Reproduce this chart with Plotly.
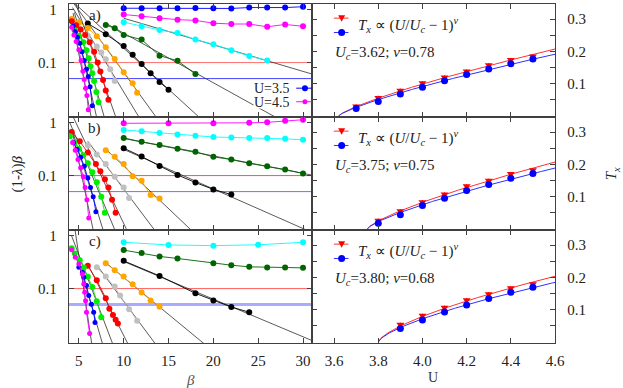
import numpy as np
import plotly.graph_objects as go
from plotly.subplots import make_subplots

# ---------------- left panels: (1-lambda)*beta versus beta ----------------
# panel a)
A35_b = [10, 12, 14, 16, 18, 20, 22, 24, 26, 28, 30]
A35_v = [1.05, 1.05, 1.05, 1.05, 1.06, 1.05, 1.04, 1.08, 1.08, 1.08, 1.12]
A36_b = [10, 12, 14, 16, 18, 20, 22, 24, 26, 28, 30]
A36_v = [0.80, 0.74, 0.68, 0.64, 0.62, 0.55, 0.53, 0.53, 0.47, 0.52, 0.48]
A37_b = [10, 12, 14, 16, 18, 20, 22, 24, 26]
A37_v = [0.575, 0.48, 0.41, 0.36, 0.27, 0.22, 0.17, 0.133, 0.11]
A38_b = [8, 9, 10, 12, 14, 16, 18]
A38_v = [0.51, 0.44, 0.33, 0.27, 0.135, 0.108, 0.061]
A39_b = [6, 8, 10, 11, 12, 13, 14, 15]
A39_v = [0.54, 0.34, 0.204, 0.141, 0.094, 0.063, 0.043, 0.031]
A40_b = [4.2, 5, 6, 7, 8, 9, 10, 11, 11.5]
A40_v = [0.66, 0.575, 0.444, 0.313, 0.194, 0.117, 0.066, 0.041, 0.027]
A41_b = [4.3, 5, 6, 7, 7.5, 8, 8.5, 9]
A41_v = [0.52, 0.44, 0.32, 0.2, 0.155, 0.115, 0.075, 0.045]
A42_b = [4.2, 4.7, 5.2, 5.7, 6.2, 6.7, 7.1, 7.4, 7.7, 8.0, 8.3]
A42_v = [0.6, 0.5, 0.42, 0.33, 0.24, 0.16, 0.1, 0.068, 0.047, 0.03, 0.02]
A43_b = [4.5, 5.0, 5.5, 5.85, 6.1, 6.3, 6.5, 6.7, 6.95, 7.2]
A43_v = [0.41, 0.32, 0.24, 0.17, 0.12, 0.085, 0.063, 0.045, 0.028, 0.018]
A44_b = [4.35, 4.6, 4.85, 5.1, 5.35, 5.6, 5.85, 6.05, 6.25, 6.5]
A44_v = [0.48, 0.38, 0.3, 0.23, 0.16, 0.11, 0.075, 0.055, 0.035, 0.0155]
A45_b = [4.2, 4.45, 4.7, 5.0, 5.25, 5.45, 5.6, 5.75, 5.9, 6.05]
A45_v = [0.46, 0.33, 0.25, 0.174, 0.109, 0.069, 0.048, 0.033, 0.024, 0.013]

# panel b)
B36_b = [10, 15, 20, 24, 26, 28, 30]
B36_v = [0.96, 0.96, 0.96, 0.98, 1.0, 1.07, 1.12]
B37_b = [10, 12, 14, 16, 18, 20, 22, 24, 26, 28, 30]
B37_v = [0.72, 0.68, 0.63, 0.59, 0.56, 0.53, 0.52, 0.51, 0.51, 0.49, 0.47]
B38_b = [10, 12, 14, 16, 18, 20, 22, 24, 26, 28, 30]
B38_v = [0.51, 0.43, 0.375, 0.32, 0.28, 0.225, 0.2, 0.17, 0.15, 0.13, 0.11]
B39_b = [10, 12, 14, 16, 18, 20, 22]
B39_v = [0.327, 0.228, 0.152, 0.103, 0.074, 0.055, 0.044]
B40_b = [8, 9, 10, 11, 12, 13, 14]
B40_v = [0.30, 0.225, 0.165, 0.097, 0.08, 0.043, 0.037]
B41_b = [6, 7, 8, 9, 10, 10.6]
B41_v = [0.37, 0.25, 0.165, 0.095, 0.06, 0.038]
B42_b = [4.2, 5.1, 6.0, 6.9, 7.4, 7.9, 8.3, 8.7, 9.1]
B42_v = [0.66, 0.44, 0.27, 0.165, 0.12, 0.085, 0.06, 0.035, 0.02]
B43_b = [4.0, 4.5, 5.0, 5.5, 6.0, 6.5, 7.0, 7.5, 7.9]
B43_v = [0.55, 0.42, 0.32, 0.24, 0.17, 0.115, 0.075, 0.04, 0.02]
B44_b = [4.4, 4.8, 5.2, 5.6, 6.0, 6.3, 6.6, 6.9]
B44_v = [0.42, 0.31, 0.22, 0.15, 0.09, 0.06, 0.04, 0.021]
B45_b = [4.3, 4.6, 4.9, 5.2, 5.5, 5.7, 5.9, 6.1]
B45_v = [0.42, 0.3, 0.2, 0.14, 0.095, 0.06, 0.035, 0.016]

# panel c)
C37_b = [10, 15, 20, 25, 30]
C37_v = [0.74, 0.66, 0.64, 0.665, 0.74]
C38_b = [10, 12, 14, 16, 20, 22, 24, 26, 28, 30]
C38_v = [0.528, 0.464, 0.402, 0.368, 0.30, 0.275, 0.256, 0.249, 0.249, 0.245]
C39_b = [10, 14, 18, 20, 22, 24]
C39_v = [0.332, 0.173, 0.0815, 0.060, 0.045, 0.036]
C40_b = [8, 9, 10, 11, 12, 13, 14]
C40_v = [0.30, 0.221, 0.168, 0.12, 0.084, 0.06, 0.0457]
C41_b = [7, 8, 9, 9.6, 10.6, 11.5]
C41_v = [0.252, 0.168, 0.109, 0.074, 0.041, 0.025]
C42_b = [6, 7, 8, 8.4, 8.8, 9.1, 9.35]
C42_v = [0.267, 0.143, 0.066, 0.042, 0.032, 0.026, 0.022]
C43_b = [4.2, 4.55, 5.1, 5.55, 6.0, 6.5, 7.0, 7.5]
C43_v = [0.575, 0.457, 0.342, 0.249, 0.166, 0.107, 0.058, 0.029]
C44_b = [5.0, 5.4, 5.55, 5.85, 6.1, 6.4, 6.65, 6.8]
C44_v = [0.252, 0.203, 0.163, 0.114, 0.074, 0.051, 0.036, 0.023]
C45_b = [4.2, 4.6, 5.0, 5.4, 5.55, 5.65, 5.75, 5.85, 6.2]
C45_v = [0.535, 0.389, 0.291, 0.188, 0.122, 0.085, 0.059, 0.036, 0.0143]

THRESHOLDS = [0.1, 0.05]

# ---------------- right panels: T_x versus U ----------------
RA_U = [3.7, 3.8, 3.9, 4.0, 4.1, 4.2, 4.3, 4.4, 4.5]
RA_red = [0.030, 0.057, 0.079, 0.102, 0.120, 0.139, 0.158, 0.174, 0.185]
RA_blue = [0.023, 0.045, 0.068, 0.089, 0.109, 0.129, 0.146, 0.162, 0.177]
RB_U = [3.8, 3.9, 4.0, 4.1, 4.2, 4.3, 4.4, 4.5]
RB_red = [0.0265, 0.056, 0.084, 0.108, 0.133, 0.150, 0.171, 0.183]
RB_blue = [0.018, 0.044, 0.073, 0.095, 0.119, 0.138, 0.157, 0.172]
RC_U = [3.9, 4.0, 4.1, 4.2, 4.3, 4.4, 4.5]
RC_red = [0.054, 0.082, 0.107, 0.130, 0.149, 0.167, 0.180]
RC_blue = [0.042, 0.068, 0.093, 0.115, 0.135, 0.154, 0.170]
UC = [3.62, 3.75, 3.80]
NU = [0.78, 0.75, 0.68]
PANEL_LABELS = ["a)", "b)", "c)"]

# ---------------- styling ----------------
COL = {3.5: "#0000ff", 3.6: "#ff00ff", 3.7: "#00ffff", 3.8: "#006400", 3.9: "#000000",
       4.0: "#ffa500", 4.1: "#c0c0c0", 4.2: "#ff0000", 4.3: "#00ee00", 4.4: "#0000ff",
       4.5: "#ff00ff"}
MSIZE = {4.4: 5, 4.5: 5}
FONT = "Liberation Serif, Times New Roman, serif"
LX = [3.9, 31]
LY = [np.log10(0.0095), np.log10(1.26)]
RX = [3.5, 4.6]
RY = [-0.003, 0.347]
FIT_COLOR = "#303030"

# (U, beta, value, fit_start or None)
left_panels = [
    [(3.5, A35_b, A35_v, None), (3.6, A36_b, A36_v, None), (3.7, A37_b, A37_v, 10),
     (3.8, A38_b, A38_v, 8), (3.9, A39_b, A39_v, 3.9), (4.0, A40_b, A40_v, 3.9),
     (4.1, A41_b, A41_v, 4.3), (4.2, A42_b, A42_v, 4.2), (4.3, A43_b, A43_v, 4.5),
     (4.4, A44_b, A44_v, 4.35), (4.5, A45_b, A45_v, 4.2)],
    [(3.6, B36_b, B36_v, None), (3.7, B37_b, B37_v, None), (3.8, B38_b, B38_v, 10),
     (3.9, B39_b, B39_v, 10), (4.0, B40_b, B40_v, 8), (4.1, B41_b, B41_v, 6),
     (4.2, B42_b, B42_v, 4.2), (4.3, B43_b, B43_v, 4.0), (4.4, B44_b, B44_v, 4.4),
     (4.5, B45_b, B45_v, 4.3)],
    [(3.7, C37_b, C37_v, None), (3.8, C38_b, C38_v, None), (3.9, C39_b, C39_v, 10),
     (4.0, C40_b, C40_v, 8), (4.1, C41_b, C41_v, 7), (4.2, C42_b, C42_v, 6),
     (4.3, C43_b, C43_v, 4.2), (4.4, C44_b, C44_v, 5.0), (4.5, C45_b, C45_v, 4.2)],
]
right_panels = [(RA_U, RA_red, RA_blue), (RB_U, RB_red, RB_blue), (RC_U, RC_red, RC_blue)]

fig = make_subplots(rows=3, cols=2, horizontal_spacing=0, vertical_spacing=0)

for i, series in enumerate(left_panels):
    row = i + 1
    thick = 1 if i < 2 else 3
    tcol = ["#ff7070", "#ff5050", "#ff6060"][i]
    bcol = ["#4040ff", "#7070ff", "#aaaaff"][i]
    fig.add_trace(go.Scatter(x=LX, y=[THRESHOLDS[0]] * 2, mode="lines",
                             line=dict(color=tcol, width=1), hoverinfo="skip"), row=row, col=1)
    fig.add_trace(go.Scatter(x=LX, y=[THRESHOLDS[1]] * 2, mode="lines",
                             line=dict(color=bcol, width=thick), hoverinfo="skip"), row=row, col=1)
    for (u, b, v, fs) in series:
        if fs is None:
            continue
        b = np.array(b, float)
        lv = np.log10(np.array(v, float))
        sel = np.array(v) < 0.35
        if sel.sum() < 3:
            sel = np.ones(len(b), bool)
        k, c0 = np.polyfit(b[sel], lv[sel], 1)
        xs = np.linspace(fs, LX[1], 120)
        fig.add_trace(go.Scatter(x=xs, y=10 ** (k * xs + c0), mode="lines",
                                 line=dict(color=FIT_COLOR, width=0.8), hoverinfo="skip"),
                      row=row, col=1)
    for (u, b, v, fs) in series:
        fig.add_trace(go.Scatter(x=b, y=v, mode="lines+markers",
                                 line=dict(color=COL[u], width=0.9),
                                 marker=dict(color=COL[u], size=MSIZE.get(u, 6))),
                      row=row, col=1)

for i, (uu, red, blue) in enumerate(right_panels):
    row = i + 1
    uc, nu = UC[i], NU[i]
    uarr = np.array(uu)
    f = (uarr / uc - 1) ** nu
    grid = np.linspace(uc, RX[1], 200)
    fg = (grid / uc - 1) ** nu
    for vals, colr in ((red, "#ff3030"), (blue, "#3030ff")):
        vals = np.array(vals)
        amp = np.sum(vals * f) / np.sum(f * f)
        fig.add_trace(go.Scatter(x=grid, y=amp * fg, mode="lines",
                                 line=dict(color=colr, width=1), hoverinfo="skip"),
                      row=row, col=2)
    fig.add_trace(go.Scatter(x=uu, y=red, mode="markers",
                             marker=dict(symbol="triangle-down", color="#ff0000", size=7),
                             error_y=dict(type="constant", value=0.006, width=0,
                                          thickness=1, color="#ff0000")),
                  row=row, col=2)
    fig.add_trace(go.Scatter(x=uu, y=blue, mode="markers",
                             marker=dict(symbol="circle", color="#0000ff", size=7)),
                  row=row, col=2)

axis_common = dict(showline=True, mirror="ticks", linecolor="#404040", linewidth=1.3,
                   ticks="inside", ticklen=5, tickcolor="#404040", showgrid=False,
                   zeroline=False, automargin=False,
                   tickfont=dict(family=FONT, size=15, color="#222"))
for row in (1, 2, 3):
    fig.update_xaxes(range=LX, tick0=5, dtick=5, showticklabels=(row == 3),
                     ticklabelstandoff=4, row=row, col=1, **axis_common)
    fig.update_yaxes(type="log", range=LY, tickvals=[0.1, 1], ticktext=["0.1", "1"],
                     ticklabelstandoff=8, row=row, col=1, **axis_common)
    fig.update_xaxes(range=RX, tick0=3.6, dtick=0.2, tickformat=".1f",
                     showticklabels=(row == 3), ticklabelstandoff=4, row=row, col=2,
                     **axis_common)
    fig.update_yaxes(range=RY, tickvals=[0.1, 0.2, 0.3], side="right",
                     minor=dict(dtick=0.05, tick0=0, ticks="inside", ticklen=5,
                                tickcolor="#404040"),
                     ticklabelstandoff=8, row=row, col=2, **axis_common)

annotations = []
shapes = []
serif = dict(family=FONT, size=15, color="#222")
left_refs = [("x", "y"), ("x3", "y3"), ("x5", "y5")]
right_refs = [("x2", "y2"), ("x4", "y4"), ("x6", "y6")]
for i in range(3):
    xr, yr = left_refs[i]
    annotations.append(dict(text=PANEL_LABELS[i], xref=xr + " domain", yref=yr + " domain",
                            x=0.105, y=0.9, xanchor="center", yanchor="middle",
                            showarrow=False, font=serif))
    xr, yr = right_refs[i]
    xd, yd = xr + " domain", yr + " domain"
    annotations.append(dict(text="<i>T<sub>x</sub></i> ∝ (<i>U</i>/<i>U<sub>c</sub></i> − 1)<sup><i>ν</i></sup>",
                            xref=xd, yref=yd, x=0.18, y=0.815, xanchor="left",
                            yanchor="middle", showarrow=False, font=serif))
    annotations.append(dict(text="<i>U<sub>c</sub></i>=%.2f; <i>ν</i>=%.2f" % (UC[i], NU[i]),
                            xref=xd, yref=yd, x=0.085, y=0.57, xanchor="left",
                            yanchor="middle", showarrow=False, font=serif))
    for yy, colr in ((0.875, "#ff3030"), (0.748, "#3030ff")):
        shapes.append(dict(type="line", xref=xd, yref=yd, x0=0.09, x1=0.15, y0=yy, y1=yy,
                           line=dict(color=colr, width=1)))
    shapes.append(dict(type="path", xref=xd, yref=yd, xsizemode="pixel", ysizemode="pixel",
                       xanchor=0.122, yanchor=0.875, path="M-3.5,3 L3.5,3 L0,-3.5 Z",
                       fillcolor="#ff0000", line=dict(width=0)))
    shapes.append(dict(type="circle", xref=xd, yref=yd, xsizemode="pixel", ysizemode="pixel",
                       xanchor=0.122, yanchor=0.748, x0=-3.5, x1=3.5, y0=-3.5, y1=3.5,
                       fillcolor="#0000ff", line=dict(width=0)))

# legend of panel a)
for txt, yy, colr, sz in (("U=3.5", 0.255, "#0000ff", 3), ("U=4.5", 0.135, "#ff00ff", 2.5)):
    annotations.append(dict(text=txt, xref="x domain", yref="y domain", x=0.912, y=yy,
                            xanchor="right", yanchor="middle", showarrow=False,
                            font=dict(family=FONT, size=14, color="#222"),
                            bgcolor="white", borderpad=0, height=12))
    shapes.append(dict(type="line", xref="x domain", yref="y domain", x0=0.935, x1=1.0,
                       y0=yy, y1=yy, line=dict(color=colr, width=1)))
    shapes.append(dict(type="circle", xref="x domain", yref="y domain", xsizemode="pixel",
                       ysizemode="pixel", xanchor=0.971, yanchor=yy, x0=-sz, x1=sz,
                       y0=-sz, y1=sz, fillcolor=colr, line=dict(width=0)))

# axis titles
annotations += [
    dict(text="(1-<i>λ</i>)<i>β</i>", xref="paper", yref="paper", x=-0.105, y=0.5,
         xanchor="center", yanchor="middle", textangle=-90, showarrow=False, font=serif),
    dict(text="<i>T<sub>x</sub></i>", xref="paper", yref="paper", x=1.117, y=0.5,
         xanchor="center", yanchor="middle", textangle=-90, showarrow=False, font=serif),
    dict(text="<i>β</i>", xref="paper", yref="paper", x=0.249, y=-0.108,
         xanchor="center", yanchor="middle", showarrow=False,
         font=dict(family=FONT, size=15, color="#555")),
    dict(text="U", xref="paper", yref="paper", x=0.749, y=-0.103,
         xanchor="center", yanchor="middle", showarrow=False,
         font=dict(family=FONT, size=14, color="#333")),
]

fig.update_layout(width=623, height=388, margin=dict(l=69, r=68, t=4, b=45),
                  paper_bgcolor="white", plot_bgcolor="white", showlegend=False,
                  annotations=annotations, shapes=shapes, font=serif)
fig.write_html("out.html", config={"displayModeBar": False},
               post_script="document.body.style.margin='0';")
